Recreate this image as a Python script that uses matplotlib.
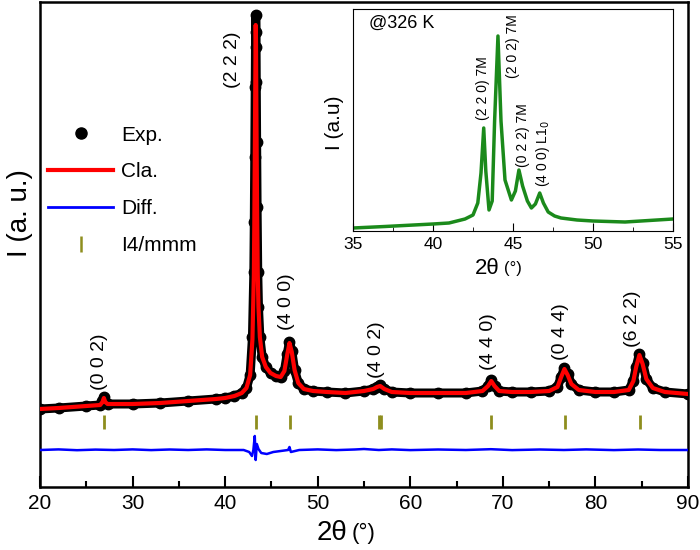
import matplotlib
matplotlib.use("Agg")
from matplotlib import pyplot as plt
from matplotlib.lines import Line2D

plt.rcParams['font.family'] = ['Liberation Sans', 'DejaVu Sans']

# main pattern (2theta, intensity in arbitrary units)
tt = [20, 22, 25, 26.5, 26.75, 26.9, 27.05, 27.3, 30, 33, 36, 39, 40, 41, 41.8, 42.3,
      42.7, 42.95, 43.1, 43.15, 43.2, 43.25, 43.28, 43.3, 43.33, 43.36, 43.4, 43.45,
      43.52, 43.6, 43.75, 44.0, 44.4, 44.9, 45.5, 46.0, 46.4, 46.7, 46.95, 47.2, 47.5,
      47.9, 48.5, 49.5, 51, 53, 55, 56.0, 56.4, 56.75, 57.2, 58, 60, 63, 66, 67.8,
      68.4, 68.75, 69.1, 69.6, 71, 73, 75, 75.9, 76.3, 76.65, 77.0, 77.4, 78.2, 80,
      82, 83.6, 84.1, 84.4, 84.75, 85.1, 85.5, 86.2, 87.5, 90]
obs = [78, 79, 81, 82, 86, 90, 85, 83, 83, 84, 86, 88, 89, 91, 94, 99,
       112, 150, 215, 265, 330, 400, 440, 472, 455, 405, 345, 280,
       215, 180, 150, 130, 120, 114, 111, 110, 116, 133, 145, 136, 117,
       104, 98, 96, 95, 94, 96, 98, 100, 102, 98, 95, 94, 94, 94, 96,
       101, 107, 101, 96, 95, 95, 96, 100, 110, 119, 113, 103, 97, 95,
       95, 97, 106, 120, 133, 124, 108, 99, 95, 93]
calc = [78, 79, 81, 82, 85, 89, 85, 83, 83, 84, 86, 88, 89, 91, 94, 99,
        112, 148, 212, 262, 326, 396, 434, 462, 448, 400, 342, 278,
        214, 180, 150, 130, 120, 114, 111, 110, 116, 132, 144, 135, 117,
        104, 98, 96, 95, 94, 96, 98, 100, 101, 98, 95, 94, 94, 94, 96,
        101, 106, 101, 96, 95, 95, 96, 100, 110, 118, 112, 103, 97, 95,
        95, 97, 106, 120, 132, 123, 108, 99, 95, 93]

# difference curve
diff_tt = [20, 22, 24, 26, 28, 30, 32, 34, 36, 38, 40, 42, 42.6, 42.9, 43.05, 43.2,
           43.3, 43.42, 43.6, 43.9, 44.5, 45.2, 46.0, 46.8, 46.95, 47.1, 48, 50, 52,
           54, 55, 56.6, 58, 60, 63, 66, 68.7, 71, 74, 76.6, 79, 82, 84.6, 87, 90]
diff = [37, 37.6, 36.8, 37.4, 37, 37.6, 36.9, 37.5, 37, 37.6, 37, 37, 35, 31, 37, 51,
        27, 43, 38, 34, 33, 35, 36, 37, 40, 35, 37, 37.6, 36.9,
        37.5, 38, 37, 37.6, 36.9, 37.5, 37, 37.8, 36.9, 37.5, 37, 37.6, 36.9, 37.5, 37, 37]

# Bragg positions, I4/mmm
bragg = [26.9, 43.3, 47.0, 56.6, 56.85, 68.7, 76.7, 84.8]

# peak labels: text, x, bottom y
peak_txt = ['(0 0 2)', '(2 2 2)', '(4 0 0)', '(4 0 2)', '(4 4 0)', '(0 4 4)', '(6 2 2)']
peak_x = [26.4, 40.8, 46.6, 56.4, 68.4, 76.2, 84.0]
peak_y = [97, 399, 157, 109, 117, 127, 140]

# inset @326 K
in_tt = [35, 37, 40, 41, 42, 42.5, 42.8, 43.0, 43.17, 43.3, 43.5, 43.7, 43.85,
         44.06, 44.25, 44.5, 44.9, 45.15, 45.37, 45.6, 45.9, 46.15, 46.4, 46.67,
         46.9, 47.2, 47.6, 48, 49, 50, 52, 55]
in_i = [3, 4.5, 7, 8, 12, 16, 28, 58, 103, 60, 21, 30, 110,
        195, 110, 51, 31, 40, 61, 45, 30, 23, 27, 38,
        28, 19, 15, 13, 11, 10, 9, 12]
in_txt = ['(2 2 0) 7M', '(2 0 2) 7M', '(0 2 2) 7M', '(4 0 0) L1$_0$']
in_x = [43.15, 45.0, 45.6, 46.9]
in_y = [111, 153, 64, 44]

olive = '#8e8e1e'

fig = plt.figure(figsize=(7, 5.5), dpi=100)
ax = fig.add_axes([40 / 700, 1 - 487 / 550, 648 / 700, 485 / 550])

ax.plot(tt, obs, color='black', lw=6.5, marker='o', ms=7.5, zorder=2)
ax.plot(tt, calc, color='red', lw=3, zorder=3)
ax.plot(diff_tt, diff, color='blue', lw=1.8, zorder=3)
ax.vlines(bragg, 58, 72, color=olive, lw=2)

for t, x, y in zip(peak_txt, peak_x, peak_y):
    ax.text(x, y, t, rotation=90, ha='center', va='bottom', fontsize=14)

ax.set_xlim(20, 90)
ax.set_ylim(0, 485)
ax.set_yticks([])
ax.set_xticks(range(20, 91, 10))
ax.set_xticks(range(25, 90, 10), minor=True)
ax.tick_params(axis='x', which='major', direction='in', length=8, width=1.5,
               labelsize=15, pad=5)
ax.tick_params(axis='x', which='minor', direction='in', length=4, width=1.5)
for s in ax.spines.values():
    s.set_linewidth(1.8)

fig.text(347 / 700, 1 - 533 / 550, '2θ', fontsize=20, ha='right', va='center')
fig.text(352 / 700, 1 - 533 / 550, '(°)', fontsize=16, ha='left', va='center')
fig.text(20 / 700, 1 - 213 / 550, 'I (a. u.)', fontsize=20, rotation=90,
         ha='center', va='center')

handles = [Line2D([], [], color='black', marker='o', ls='none', ms=8),
           Line2D([], [], color='red', lw=3),
           Line2D([], [], color='blue', lw=2),
           Line2D([], [], color=olive, marker='|', ls='none', ms=11, mew=1.8)]
ax.legend(handles, ['Exp.', 'Cla.', 'Diff.', 'I4/mmm'], loc='upper left',
          bbox_to_anchor=(0.013, 0.745), frameon=False, fontsize=15,
          handlelength=3.1, handletextpad=0.4, labelspacing=0.85,
          borderpad=0, borderaxespad=0)

# inset
ins = fig.add_axes([353 / 700, 1 - 231 / 550, 320 / 700, 222 / 550])
ins.plot(in_tt, in_i, color='#1b8a1b', lw=2.5)
for t, x, y in zip(in_txt, in_x, in_y):
    ins.text(x, y, t, rotation=90, ha='center', va='bottom', fontsize=10)
ins.text(36.0, 208, '@326 K', fontsize=13, ha='left', va='center')
ins.set_xlim(35, 55)
ins.set_ylim(0, 222)
ins.set_yticks([])
ins.set_xticks(range(35, 56, 5))
ins.set_xticks([37.5, 42.5, 47.5, 52.5], minor=True)
ins.tick_params(axis='x', which='major', direction='in', length=6, labelsize=12.5, pad=4)
ins.tick_params(axis='x', which='minor', direction='in', length=3)
fig.text(500 / 700, 1 - 268 / 550, '2θ', fontsize=16, ha='right', va='center')
fig.text(504 / 700, 1 - 268 / 550, '(°)', fontsize=12, ha='left', va='center')
fig.text(335 / 700, 1 - 123 / 550, 'I (a.u)', fontsize=15, rotation=90,
         ha='center', va='center')

fig.savefig('out.png', dpi=100)
